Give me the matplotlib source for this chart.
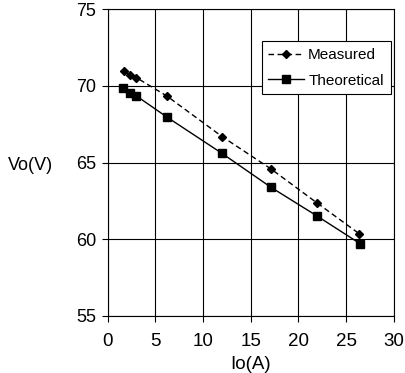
import matplotlib
matplotlib.use("Agg")
import matplotlib.pyplot as plt

plt.rcParams["font.family"] = ["Liberation Sans", "DejaVu Sans"]

# load current Io(A) and output voltage Vo(V)
IO_MEASURED = [1.7, 2.4, 3.0, 6.2, 12.0, 17.1, 22.0, 26.4]
VO_MEASURED = [71.0, 70.7, 70.55, 69.35, 66.7, 64.6, 62.35, 60.35]
IO_THEORY = [1.6, 2.4, 3.0, 6.2, 12.0, 17.1, 22.0, 26.5]
VO_THEORY = [69.85, 69.57, 69.36, 67.98, 65.6, 63.4, 61.5, 59.7]


def main():
    fig = plt.figure(figsize=(4.06, 3.73), dpi=100)
    ax = fig.add_axes([0.265, 0.153, 0.705, 0.822])

    ax.plot(IO_MEASURED, VO_MEASURED, color="black", linestyle=(0, (4, 2.5)),
            linewidth=1.0, marker="D", markersize=4, label="Measured")
    ax.plot(IO_THEORY, VO_THEORY, color="black", linestyle="-",
            linewidth=1.0, marker="s", markersize=6, label="Theoretical")

    ax.set_xlim(0, 30)
    ax.set_ylim(55, 75)
    ax.set_xticks(range(0, 31, 5))
    ax.set_yticks(range(55, 76, 5))
    ax.grid(True, color="black", linewidth=0.8)
    for s in ax.spines.values():
        s.set_color("black")
        s.set_linewidth(0.8)
    ax.tick_params(axis="x", labelsize=13.5, length=4, width=0.8, pad=8)
    ax.tick_params(axis="y", labelsize=13, length=4, width=0.8, pad=4)

    ax.set_xlabel("Io(A)", fontsize=13.5, va="bottom")
    ax.xaxis.set_label_coords(0.5, -0.185)
    ax.set_ylabel("Vo(V)", fontsize=13, rotation=0, ha="right", va="center")
    ax.yaxis.set_label_coords(-0.19, 0.49)

    leg = ax.legend(loc="upper left", bbox_to_anchor=(0.538, 0.896),
                    borderaxespad=0, fontsize=11, fancybox=False,
                    framealpha=1, edgecolor="black", handlelength=2.3,
                    handletextpad=0.3, borderpad=0.45, labelspacing=0.75)
    leg.get_frame().set_linewidth(0.8)

    fig.savefig("out.png", dpi=100)


if __name__ == "__main__":
    main()
